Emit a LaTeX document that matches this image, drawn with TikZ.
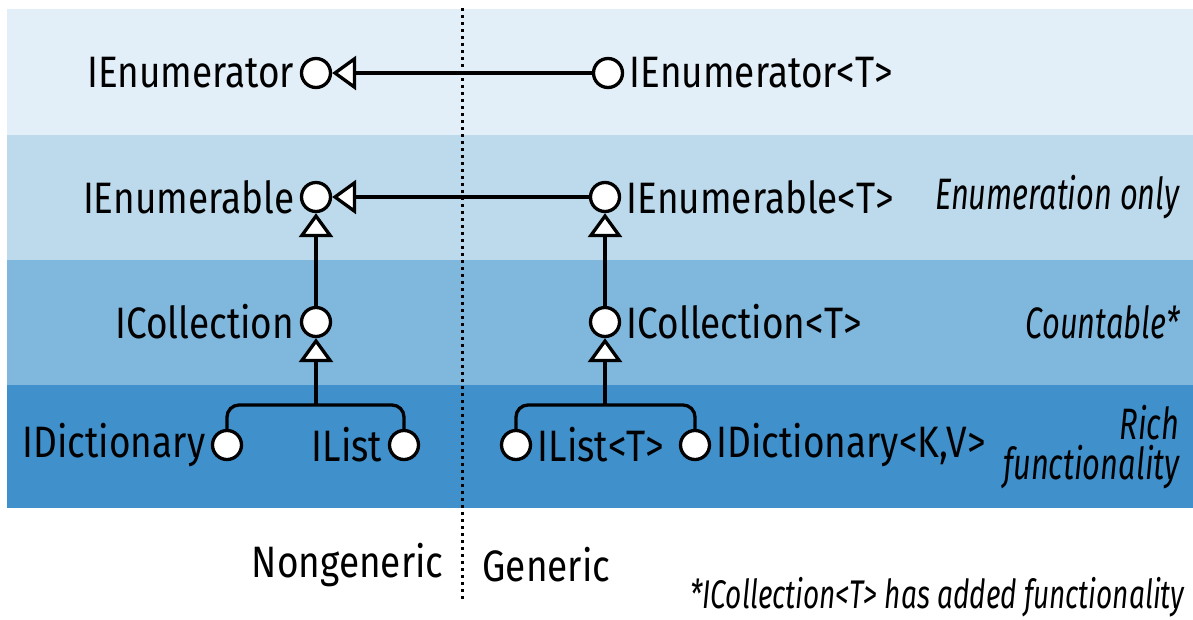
\documentclass[tikz,border=0pt]{standalone}
\usepackage{fontspec}
\setmainfont[FakeStretch=0.84,ItalicFeatures={FakeStretch=0.70}]{Fira Sans}
\usetikzlibrary{arrows.meta,positioning}

\definecolor{bandA}{HTML}{E2EFF8}
\definecolor{bandB}{HTML}{BDDAEC}
\definecolor{bandC}{HTML}{80B7DD}
\definecolor{bandD}{HTML}{3F90CB}

\begin{document}
\begin{tikzpicture}[x=1pt,y=-1pt,line width=3.3pt]
  \def\L{316}
  \def\R{605}

\tikzstyle{iface}=[circle,draw,fill=white,minimum size=29pt,inner sep=0pt]
\tikzstyle{lbl}=[font=\fontsize{44}{41}\selectfont,inner sep=1pt]
\tikzstyle{note}=[font=\fontsize{44}{40}\selectfont\itshape,inner sep=1pt,align=right]
\tikzstyle{inh}=[-{Triangle[length=24pt,width=34pt,fill=white]}]
\useasboundingbox (0,0) rectangle (1193,619);
% bands
\fill[bandA] (7,9) rectangle (1193,135);
\fill[bandB] (7,135) rectangle (1193,260);
\fill[bandC] (7,260) rectangle (1193,385);
\fill[bandD] (7,385) rectangle (1193,508);
% split line
\coordinate (top) at (462,8);
\coordinate (bot) at (462,601);
\draw[line width=3pt,dash pattern=on 3pt off 4pt] (top) -- (bot);
% nongeneric side
\node[iface] (en) at (\L,73) {};
\node[lbl,left=3pt of en] (lEn) {IEnumerator};
\node[iface] (ebl) at (\L,197) {};
\node[lbl,left=3pt of ebl] (lEbl) {IEnumerable};
\node[iface] (col) at (\L,322) {};
\node[lbl,left=3pt of col] (lCol) {ICollection};
\node[iface] (dic) at (227,445) {};
\node[lbl,left=3pt of dic] (lDic) {IDictionary};
\node[iface] (lst) at (404,445) {};
\node[lbl,left=3pt of lst] (lLst) {IList};
% generic side
\node[iface] (enG) at (\R+3,73) {};
\node[lbl,right=3pt of enG] (lEnG) {IEnumerator<T>};
\node[iface] (eblG) at (\R,197) {};
\node[lbl,right=3pt of eblG] (lEblG) {IEnumerable<T>};
\node[iface] (colG) at (\R,322) {};
\node[lbl,right=3pt of colG] (lColG) {ICollection<T>};
\node[iface] (lstG) at (516,445) {};
\node[lbl,right=3pt of lstG] (lLstG) {IList<T>};
\node[iface] (dicG) at (695,445) {};
\node[lbl,right=3pt of dicG] (lDicG) {IDictionary<K,V>};
% links
\draw[inh] (enG) -- (en);
\draw[inh] (eblG) -- (ebl);
\draw[inh] (col) -- (ebl);
\draw[inh] (colG) -- (eblG);
\coordinate (jL) at (\L,405);
\coordinate (jR) at (\R,405);
\draw[rounded corners=12pt] (dic.north) |- (jL) -| (lst.north);
\draw[rounded corners=12pt] (lstG.north) |- (jR) -| (dicG.north);
\draw[inh] (jL) -- (col);
\draw[inh] (jR) -- (colG);
% side notes
\node[note,anchor=east] (nEnum) at (1182,197) {Enumeration only};
\node[note,anchor=east] (nCount) at (1182,322) {Countable*};
\node[note,anchor=east] (nRich) at (1182,447) {Rich\\functionality};
\node[lbl,anchor=east] (ng) at (446,565) {Nongeneric};
\node[lbl,anchor=west] (g) at (480,565) {Generic};
\node[note,anchor=east,font=\fontsize{40}{41}\selectfont\itshape] (foot) at (1187,597) {*ICollection<T> has added functionality};
\end{tikzpicture}
\end{document}
